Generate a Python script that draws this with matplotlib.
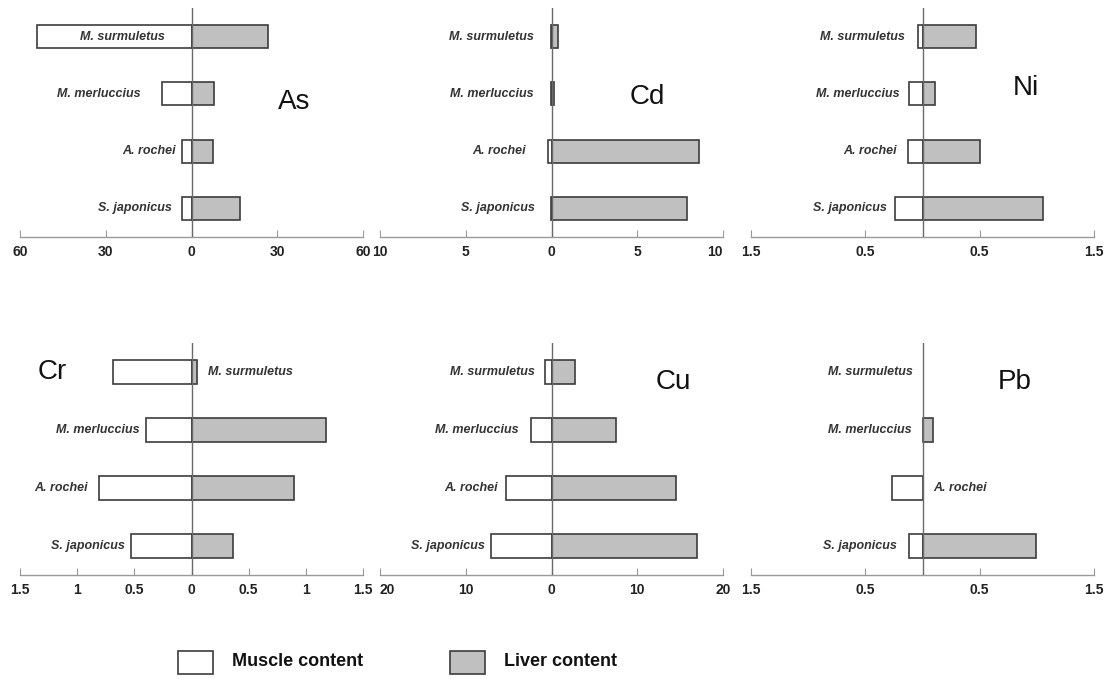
import matplotlib
matplotlib.use('Agg')
import matplotlib.pyplot as plt
from matplotlib.patches import Rectangle

# species from bottom to top
species = ['S. japonicus', 'A. rochei', 'M. merluccius', 'M. surmuletus']
elements = ['As', 'Cd', 'Ni', 'Cr', 'Cu', 'Pb']

as_muscle = [3.2, 3.2, 10.2, 54.0]
as_liver = [16.8, 7.4, 7.7, 26.7]
cd_muscle = [0.05, 0.2, 0.03, 0.05]
cd_liver = [7.9, 8.6, 0.12, 0.35]
ni_muscle = [0.24, 0.125, 0.12, 0.035]
ni_liver = [1.05, 0.50, 0.11, 0.47]
cr_muscle = [0.53, 0.81, 0.40, 0.69]
cr_liver = [0.36, 0.90, 1.18, 0.044]
cu_muscle = [7.0, 5.3, 2.4, 0.78]
cu_liver = [17.0, 14.5, 7.5, 2.7]
pb_muscle = [0.12, 0.27, 0.0, 0.0]
pb_liver = [0.99, 0.0, 0.09, 0.0]

as_ticks = [-60, -30, 0, 30, 60]
as_ticklabels = ['60', '30', '0', '30', '60']
cd_ticks = [-10, -5, 0, 5, 10]
cd_ticklabels = ['10', '5', '0', '5', '10']
ni_ticks = [-1.5, -0.5, 0.5, 1.5]
ni_ticklabels = ['1.5', '0.5', '0.5', '1.5']
cr_ticks = [-1.5, -1, -0.5, 0, 0.5, 1, 1.5]
cr_ticklabels = ['1.5', '1', '0.5', '0', '0.5', '1', '1.5']
cu_ticks = [-20, -10, 0, 10, 20]
cu_ticklabels = ['20', '10', '0', '10', '20']
pb_ticks = [-1.5, -0.5, 0.5, 1.5]
pb_ticklabels = ['1.5', '0.5', '0.5', '1.5']

legend_labels = ['Muscle content', 'Liver content']

muscle = [as_muscle, cd_muscle, ni_muscle, cr_muscle, cu_muscle, pb_muscle]
liver = [as_liver, cd_liver, ni_liver, cr_liver, cu_liver, pb_liver]
ticks = [as_ticks, cd_ticks, ni_ticks, cr_ticks, cu_ticks, pb_ticks]
ticklabels = [as_ticklabels, cd_ticklabels, ni_ticklabels,
              cr_ticklabels, cu_ticklabels, pb_ticklabels]

# layout: where each species label sits (data x, alignment), element label spot
label_x = [[-6.9, -5.5, -17.8, -9.4],
           [-0.95, -1.5, -1.05, -1.0],
           [-0.31, -0.22, -0.20, -0.15],
           [-0.585, -0.91, -0.45, 0.14],
           [-7.8, -6.2, -3.8, -1.9],
           [-0.226, 0.096, -0.092, -0.087]]
elem_pos = [(0.80, 0.59), (0.78, 0.61), (0.80, 0.65),
            (0.093, 0.875), (0.855, 0.83), (0.77, 0.83)]
# edge tick labels nudged inwards like the original
edge_ha = {1: {4: 'right'}, 4: {0: 'left'}}

W, H = 1110, 679
col_left = [20, 380, 751]
ax_w = 343
rows = [(8, 237), (343, 575)]

muscle_color = 'white'
liver_color = '#c0c0c0'
edge = '#3c3c3c'

fig = plt.figure(figsize=(W / 100, H / 100), dpi=100)
plt.rcParams['font.family'] = ['Liberation Sans', 'DejaVu Sans']

for i in range(6):
    top, bottom = rows[i // 3]
    left = col_left[i % 3]
    ax = fig.add_axes([left / W, 1 - bottom / H, ax_w / W, (bottom - top) / H])
    lim = max(abs(t) for t in ticks[i])
    ax.set_xlim(-lim, lim)
    ax.set_ylim(-0.5, 3.5)

    for j in range(len(species)):
        if muscle[i][j] > 0:
            ax.barh(j, -muscle[i][j], height=0.4, color=muscle_color,
                    edgecolor=edge, linewidth=1.2, zorder=2)
        if liver[i][j] > 0:
            ax.barh(j, liver[i][j], height=0.4, color=liver_color,
                    edgecolor=edge, linewidth=1.2, zorder=2)
        lx = label_x[i][j]
        ax.text(lx, j, species[j], ha='left' if lx > 0 else 'right',
                va='center', fontsize=9, fontweight='bold', fontstyle='italic',
                color='#333333', zorder=3)

    ax.axvline(0, color='#6a6a6a', linewidth=1.0, zorder=3)
    for s in ['left', 'right', 'top']:
        ax.spines[s].set_visible(False)
    ax.spines['bottom'].set_color('#999999')
    ax.spines['bottom'].set_linewidth(1.0)
    ax.set_yticks([])
    ax.set_xticks(ticks[i])
    tl = ax.set_xticklabels(ticklabels[i], fontsize=10, fontweight='bold',
                            color='#222222')
    for k, ha in edge_ha.get(i, {}).items():
        tl[k].set_ha(ha)
    ax.tick_params(axis='x', direction='in', length=5, color='#999999',
                   pad=6)
    ax.patch.set_alpha(0)
    ex, ey = elem_pos[i]
    ax.text(ex, ey, elements[i], transform=ax.transAxes, ha='center',
            va='center', fontsize=20, color='#111111')

# legend drawn by hand
box_x = [178, 450]
text_x = [232, 504]
colors = [muscle_color, liver_color]
for k in range(2):
    fig.patches.append(Rectangle((box_x[k] / W, 1 - 674 / H), 35 / W, 23 / H,
                                 transform=fig.transFigure,
                                 facecolor=colors[k], edgecolor=edge,
                                 linewidth=1.2))
    fig.text(text_x[k] / W, 1 - 662 / H, legend_labels[k], ha='left',
             va='center', fontsize=13, fontweight='bold', color='#111111')

fig.savefig('out.png', dpi=100)
